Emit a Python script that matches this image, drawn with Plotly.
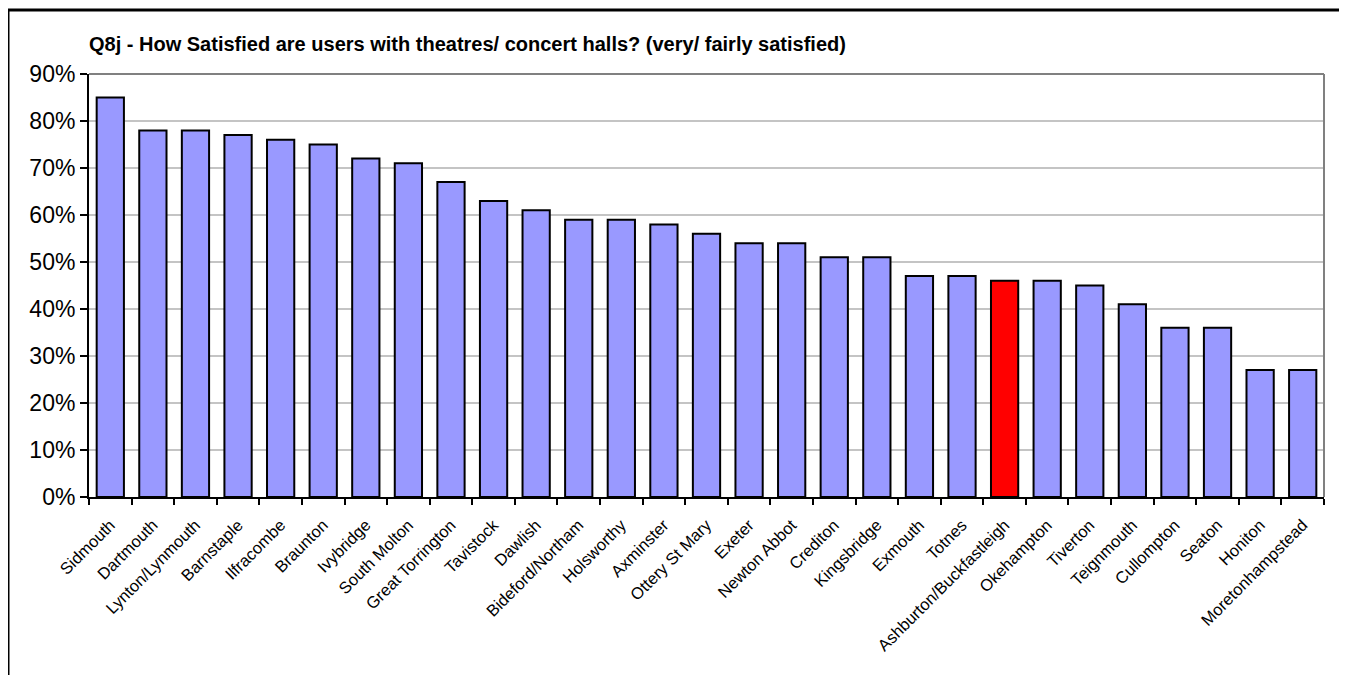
import plotly.graph_objects as go

towns = ["Sidmouth", "Dartmouth", "Lynton/Lynmouth", "Barnstaple", "Ilfracombe", "Braunton",
         "Ivybridge", "South Molton", "Great Torrington", "Tavistock", "Dawlish", "Bideford/Northam",
         "Holsworthy", "Axminster", "Ottery St Mary", "Exeter", "Newton Abbot", "Crediton",
         "Kingsbridge", "Exmouth", "Totnes", "Ashburton/Buckfastleigh", "Okehampton", "Tiverton",
         "Teignmouth", "Cullompton", "Seaton", "Honiton", "Moretonhampstead"]
satisfied = [0.85, 0.78, 0.78, 0.77, 0.76, 0.75, 0.72, 0.71, 0.67, 0.63, 0.61, 0.59, 0.59, 0.58,
             0.56, 0.54, 0.54, 0.51, 0.51, 0.47, 0.47, 0.46, 0.46, 0.45, 0.41, 0.36, 0.36, 0.27, 0.27]
highlight = "Ashburton/Buckfastleigh"

colors = ["#FF0000" if t == highlight else "#9999FF" for t in towns]

fig = go.Figure()
fig.add_trace(go.Bar(
    x=towns, y=satisfied,
    marker=dict(color=colors, line=dict(color="black", width=2)),
))

# page is drawn with an 8px body margin, so work in figure coords (page - 8)
OFF = 8
L, R, T, B = 89 - OFF, 1324 - OFF, 74 - OFF, 497 - OFF
W, H = R - L, B - T
def px(x):
    return (x - OFF - L) / W
def py(y):
    return (B - (y - OFF)) / H

fig.update_layout(
    width=1347, height=675,
    margin=dict(l=L, r=1347 - R, t=T, b=675 - B),
    paper_bgcolor="white", plot_bgcolor="white",
    font=dict(family="Arial, Liberation Sans, sans-serif", color="black"),
    bargap=0.36,
    showlegend=False,
    xaxis=dict(
        tickangle=-45, tickfont=dict(size=16.5), ticks="outside", ticklen=6, tickwidth=2,
        tickcolor="black", tickson="boundaries", showline=True, linecolor="black", linewidth=2,
        showgrid=False, range=[-0.5, len(towns) - 0.5], ticklabelstandoff=10,
    ),
    yaxis=dict(
        range=[0, 0.9], dtick=0.1, tickformat=".0%", tickfont=dict(size=23),
        ticks="outside", ticklen=7, tickwidth=2, tickcolor="black",
        showline=True, linecolor="black", linewidth=2,
        showgrid=True, gridcolor="#c4c4c4", gridwidth=2, zeroline=False,
    ),
    shapes=[
        # top and right border of plot area (grey)
        dict(type="line", xref="paper", yref="paper", x0=0, x1=1, y0=1, y1=1,
             line=dict(color="#808080", width=2)),
        dict(type="line", xref="paper", yref="paper", x0=1, x1=1, y0=0, y1=1,
             line=dict(color="#808080", width=2)),
        # outer chart frame
        dict(type="line", xref="paper", yref="paper", x0=px(8), x1=px(1360), y0=py(10), y1=py(10),
             line=dict(color="black", width=3)),
        dict(type="line", xref="paper", yref="paper", x0=px(8), x1=px(8), y0=py(10), y1=py(690),
             line=dict(color="black", width=3)),
    ],
    annotations=[dict(
        text="<b>Q8j - How Satisfied are users with theatres/ concert halls? (very/ fairly satisfied)</b>",
        xref="paper", yref="paper", x=px(87), y=py(44), xanchor="left", yanchor="middle",
        showarrow=False, font=dict(size=20),
    )],
)

fig.write_html("out.html")
